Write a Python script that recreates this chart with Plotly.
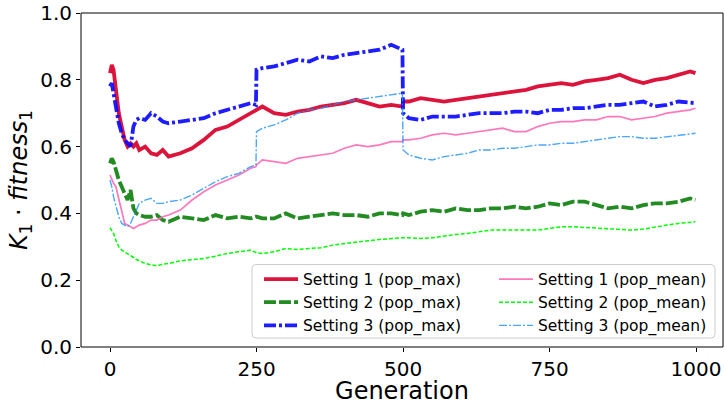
import plotly.graph_objects as go

# Generation at which each value below was recorded
GENS = [0, 3, 6, 10, 15, 20, 25, 30, 35, 40, 45, 50, 60, 70, 80, 90, 100,
        120, 140, 160, 180, 200, 220, 240, 249, 250, 260, 280, 300, 320, 340,
        360, 380, 400, 420, 440, 460, 480, 499, 500, 510, 530, 550, 570, 590,
        610, 630, 650, 670, 690, 710, 730, 750, 770, 790, 810, 830, 850, 870,
        890, 910, 930, 950, 970, 990, 999]

# Setting 1, best individual of the population
S1_MAX = [0.82, 0.845, 0.83, 0.76, 0.70, 0.66, 0.62, 0.60, 0.61, 0.60, 0.61, 0.59,
          0.60, 0.58, 0.575, 0.59, 0.57, 0.58, 0.595, 0.62, 0.65, 0.66, 0.68, 0.70,
          0.71, 0.71, 0.72, 0.70, 0.695, 0.705, 0.71, 0.72, 0.725, 0.73, 0.74, 0.73,
          0.72, 0.725, 0.72, 0.735, 0.735, 0.745, 0.74, 0.735, 0.74, 0.745, 0.75,
          0.755, 0.76, 0.765, 0.77, 0.78, 0.785, 0.79, 0.785, 0.795, 0.80, 0.805,
          0.815, 0.80, 0.79, 0.80, 0.805, 0.815, 0.825, 0.82]

# Setting 2, best individual of the population
S2_MAX = [0.55, 0.565, 0.555, 0.53, 0.50, 0.48, 0.46, 0.44, 0.47, 0.415, 0.40, 0.395,
          0.39, 0.39, 0.395, 0.38, 0.375, 0.39, 0.385, 0.38, 0.395, 0.385, 0.39,
          0.385, 0.39, 0.39, 0.385, 0.385, 0.40, 0.385, 0.39, 0.395, 0.40, 0.395,
          0.395, 0.39, 0.40, 0.40, 0.395, 0.40, 0.395, 0.405, 0.41, 0.405, 0.415,
          0.41, 0.41, 0.415, 0.415, 0.42, 0.415, 0.42, 0.43, 0.425, 0.435, 0.435,
          0.425, 0.415, 0.42, 0.415, 0.425, 0.43, 0.43, 0.435, 0.445, 0.44]

# Setting 3, best individual of the population
S3_MAX = [0.78, 0.79, 0.76, 0.72, 0.67, 0.64, 0.62, 0.61, 0.60, 0.66, 0.68, 0.685,
          0.68, 0.70, 0.69, 0.675, 0.67, 0.675, 0.68, 0.685, 0.70, 0.71, 0.72, 0.73,
          0.725, 0.83, 0.835, 0.84, 0.85, 0.86, 0.855, 0.87, 0.865, 0.875, 0.88,
          0.885, 0.89, 0.905, 0.89, 0.70, 0.685, 0.68, 0.69, 0.69, 0.69, 0.695,
          0.70, 0.70, 0.70, 0.705, 0.705, 0.70, 0.71, 0.71, 0.715, 0.715, 0.72,
          0.725, 0.725, 0.73, 0.735, 0.72, 0.725, 0.735, 0.73, 0.73]

# Population means
S1_MEAN = [0.515, 0.50, 0.49, 0.48, 0.44, 0.40, 0.37, 0.365, 0.36, 0.355, 0.36,
           0.365, 0.37, 0.38, 0.38, 0.39, 0.395, 0.41, 0.44, 0.465, 0.485, 0.50,
           0.515, 0.535, 0.54, 0.545, 0.56, 0.555, 0.55, 0.565, 0.57, 0.575, 0.58,
           0.595, 0.605, 0.60, 0.605, 0.615, 0.615, 0.62, 0.62, 0.625, 0.635, 0.64,
           0.635, 0.64, 0.645, 0.65, 0.655, 0.645, 0.645, 0.66, 0.67, 0.675, 0.675,
           0.68, 0.68, 0.69, 0.69, 0.68, 0.685, 0.69, 0.70, 0.705, 0.71, 0.715]

S2_MEAN = [0.357, 0.35, 0.34, 0.32, 0.30, 0.29, 0.285, 0.28, 0.275, 0.268, 0.262,
           0.258, 0.25, 0.246, 0.243, 0.248, 0.25, 0.258, 0.262, 0.265, 0.272, 0.28,
           0.285, 0.29, 0.283, 0.282, 0.28, 0.285, 0.295, 0.292, 0.295, 0.297,
           0.305, 0.31, 0.315, 0.318, 0.322, 0.325, 0.327, 0.327, 0.327, 0.325,
           0.327, 0.333, 0.337, 0.34, 0.345, 0.35, 0.35, 0.35, 0.348, 0.35, 0.355,
           0.36, 0.36, 0.358, 0.355, 0.352, 0.35, 0.35, 0.353, 0.36, 0.365, 0.37,
           0.375, 0.375]

S3_MEAN = [0.50, 0.48, 0.45, 0.42, 0.39, 0.37, 0.365, 0.36, 0.37, 0.39, 0.41, 0.43,
           0.44, 0.445, 0.43, 0.43, 0.435, 0.44, 0.455, 0.475, 0.495, 0.51, 0.52,
           0.54, 0.545, 0.645, 0.655, 0.665, 0.68, 0.70, 0.71, 0.715, 0.725, 0.735,
           0.74, 0.745, 0.75, 0.755, 0.76, 0.59, 0.575, 0.565, 0.56, 0.57, 0.575,
           0.58, 0.59, 0.59, 0.595, 0.595, 0.60, 0.605, 0.605, 0.61, 0.61, 0.615,
           0.62, 0.625, 0.63, 0.63, 0.625, 0.625, 0.63, 0.635, 0.64, 0.64]

X_TICKS = [0, 250, 500, 750, 1000]
Y_TICKS = [0.0, 0.2, 0.4, 0.6, 0.8, 1.0]

FONT = "DejaVu Sans"

# (name, values, colour, width, dash, legend column) in drawing order
series = [
    ("Setting 1 (pop_max)", S1_MAX, "crimson", 3.8, "solid", "legend"),
    ("Setting 2 (pop_max)", S2_MAX, "forestgreen", 3.8, "12px,3px", "legend"),
    ("Setting 3 (pop_max)", S3_MAX, "rgba(10,10,255,0.92)", 3.8, "12px,3px,3px,3px", "legend"),
    ("Setting 1 (pop_mean)", S1_MEAN, "rgba(255,105,180,0.9)", 1.7, "solid", "legend2"),
    ("Setting 2 (pop_mean)", S2_MEAN, "lime", 1.5, "4px,2px", "legend2"),
    ("Setting 3 (pop_mean)", S3_MEAN, "rgba(30,144,255,0.8)", 1.4, "8px,2px,2px,2px", "legend2"),
]

fig = go.Figure()
for name, vals, color, width, dash, leg in series:
    fig.add_trace(go.Scatter(
        x=GENS, y=vals, mode="lines", name=name, legend=leg,
        line=dict(color=color, width=width, dash=dash),
    ))

axis_common = dict(
    showline=False, mirror=False,
    ticks="outside", ticklen=4, tickwidth=1, tickcolor="black",
    showgrid=False, zeroline=False, ticklabeloverflow="allow",
    tickfont=dict(family=FONT, size=20, color="black"),
)

# Frame around the plotting area
frame = dict(type="rect", xref="paper", yref="paper", x0=0, x1=1, y0=0, y1=1,
             line=dict(color="black", width=1), layer="above")

# Legend background: rounded box spanning both legend columns
bx0, bx1, by0, by1 = 0.2664, 0.9875, 0.0268, 0.247
rx, ry = 0.0062, 0.0119
box_path = (f"M{bx0 + rx},{by0} L{bx1 - rx},{by0} Q{bx1},{by0} {bx1},{by0 + ry} "
            f"L{bx1},{by1 - ry} Q{bx1},{by1} {bx1 - rx},{by1} "
            f"L{bx0 + rx},{by1} Q{bx0},{by1} {bx0},{by1 - ry} "
            f"L{bx0},{by0 + ry} Q{bx0},{by0} {bx0 + rx},{by0} Z")
legend_box = dict(type="path", xref="paper", yref="paper", path=box_path,
                  fillcolor="rgba(255,255,255,0.8)",
                  line=dict(color="#cccccc", width=1), layer="above")

legend_common = dict(
    orientation="v", yanchor="top", xanchor="left",
    bgcolor="rgba(0,0,0,0)", borderwidth=0, itemwidth=34,
    font=dict(family=FONT, size=15.5, color="black"),
    traceorder="normal",
)

fig.update_layout(
    width=724, height=405,
    margin=dict(l=81, r=1, t=11, b=58),
    paper_bgcolor="white", plot_bgcolor="white",
    font=dict(family=FONT, color="black"),
    xaxis=dict(
        range=[-49.5, 1046], tickvals=X_TICKS, ticklabelstandoff=0,
        title=dict(text="Generation", font=dict(family=FONT, size=24), standoff=6),
        **axis_common,
    ),
    yaxis=dict(
        range=[0, 1], tickvals=Y_TICKS, tickformat=".1f",
        title=dict(text="<i>K</i><sub>1</sub> · <i>fitness</i><sub>1</sub>",
                   font=dict(family=FONT, size=24), standoff=5),
        **axis_common,
    ),
    legend=dict(x=0.2773, y=0.253, **legend_common),
    legend2=dict(x=0.6433, y=0.253, **legend_common),
    shapes=[legend_box, frame],
    showlegend=True,
)

fig.write_html("out.html")
